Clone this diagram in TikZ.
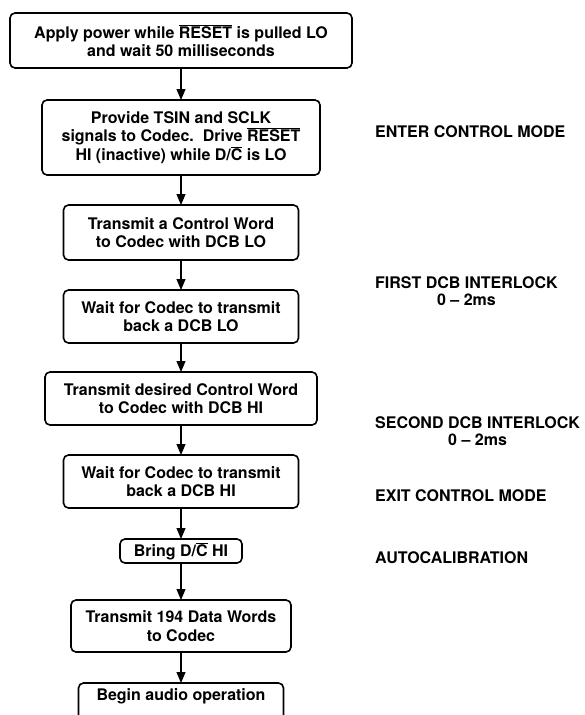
\documentclass[tikz,border=0pt]{standalone}
\usepackage{fontspec}
\setmainfont{TeX Gyre Heros}
\usepackage{tikz}
\usetikzlibrary{positioning, arrows.meta}

\newcommand{\nbar}[1]{\ensuremath{\overline{\mbox{#1}}}}

\tikzset{
    box/.style={draw, line width=1.6pt, rounded corners=5pt, align=center,
        inner sep=2pt, outer sep=0pt, font=\fontsize{16}{18.5}\selectfont\bfseries},
    lab/.style={anchor=west, align=center, inner sep=0pt, font=\fontsize{16}{17}\selectfont\bfseries},
    flow/.style={line width=1.2pt, -{Triangle[length=11pt, width=9pt]}}
}

\begin{document}
\begin{tikzpicture}[x=1pt, y=1pt]
    \useasboundingbox (0,0) rectangle (584,-715);

    \node[box, minimum width=342pt, minimum height=55pt] (a) at (181,-40.5)
        {Apply power while \nbar{RESET} is pulled LO\\and wait 50 milliseconds};
    \node[box, below=32pt of a, minimum width=278pt, minimum height=75pt] (b)
        {Provide TSIN and SCLK\\signals to Codec.\ \ Drive \nbar{RESET}\\HI (inactive) while D/\nbar{C} is LO};
    \node[box, below=30pt of b, minimum width=235pt, minimum height=55pt] (c)
        {Transmit a Control Word\\to Codec with DCB LO};
    \node[box, below=30pt of c, minimum width=235pt, minimum height=53pt] (d)
        {Wait for Codec to transmit\\back a DCB LO};
    \node[box, below=29pt of d, minimum width=272pt, minimum height=53pt] (e)
        {Transmit desired Control Word\\to Codec with DCB HI};
    \node[box, below=30pt of e, minimum width=235pt, minimum height=53pt] (f)
        {Wait for Codec to transmit\\back a DCB HI};
    \node[box, below=31pt of f, minimum width=122pt, minimum height=24pt] (g)
        {Bring D/\nbar{C} HI};
    \node[box, below=37pt of g, minimum width=220pt, minimum height=52pt] (h)
        {Transmit 194 Data Words\\to Codec};
    \node[box, below=31pt of h, minimum width=205pt, minimum height=40pt, text depth=16pt] (i)
        {Begin audio operation};

    \path (a) edge[flow] (b)
          (b) edge[flow] (c)
          (c) edge[flow] (d)
          (d) edge[flow] (e)
          (e) edge[flow] (f)
          (f) edge[flow] (g)
          (g) edge[flow] (h)
          (h) edge[flow] (i);

    % etichette a destra
    \node[lab] (enter) at (375,-132) {ENTER CONTROL MODE};
    \node[lab] (first) at (375,-291) {FIRST DCB INTERLOCK\\0 -- 2ms};
    \node[lab] (second) at (375,-431) {SECOND DCB INTERLOCK\\0 -- 2ms};
    \node[lab] (exit) at (375,-496) {EXIT CONTROL MODE};
    \node[lab] (autocal) at (375,-558) {AUTOCALIBRATION};

\end{tikzpicture}
\end{document}
